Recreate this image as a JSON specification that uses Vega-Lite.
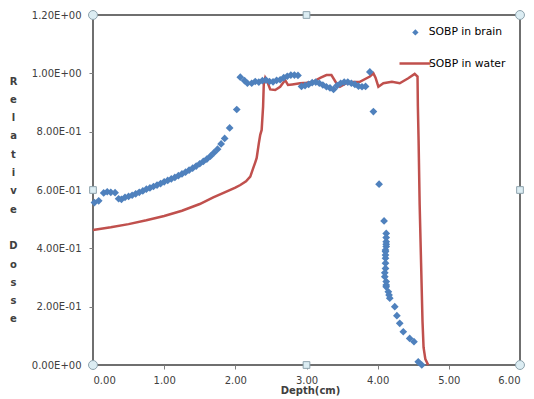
{
  "$schema": "https://vega.github.io/schema/vega-lite/v6.json",
  "width": 427,
  "height": 350,
  "autosize": {"type": "none"},
  "padding": {"left": 93, "top": 15, "right": 14, "bottom": 34},
  "background": "white",
  "config": {
    "view": {"stroke": "#404040", "strokeWidth": 1.5},
    "font": "DejaVu Sans",
    "axis": {"labelFont": "DejaVu Sans", "labelFontSize": 10, "labelColor": "#404040", "titleFont": "DejaVu Sans", "domain": false, "grid": false, "tickColor": "#7f7f7f", "tickSize": 4}
  },
  "datasets": {
    "brain": [
      {"d": 0.02, "v": 0.557}, {"d": 0.08, "v": 0.563}, {"d": 0.15, "v": 0.590}, {"d": 0.20, "v": 0.594},
      {"d": 0.25, "v": 0.592}, {"d": 0.31, "v": 0.591}, {"d": 0.36, "v": 0.570}, {"d": 0.40, "v": 0.568},
      {"d": 0.45, "v": 0.575}, {"d": 0.50, "v": 0.578}, {"d": 0.55, "v": 0.582}, {"d": 0.60, "v": 0.587},
      {"d": 0.65, "v": 0.592}, {"d": 0.70, "v": 0.597}, {"d": 0.75, "v": 0.603}, {"d": 0.80, "v": 0.607},
      {"d": 0.85, "v": 0.612}, {"d": 0.90, "v": 0.617}, {"d": 0.95, "v": 0.622}, {"d": 1.00, "v": 0.628},
      {"d": 1.05, "v": 0.633}, {"d": 1.10, "v": 0.638}, {"d": 1.15, "v": 0.643}, {"d": 1.20, "v": 0.649},
      {"d": 1.25, "v": 0.655}, {"d": 1.30, "v": 0.661}, {"d": 1.35, "v": 0.668}, {"d": 1.40, "v": 0.675},
      {"d": 1.45, "v": 0.682}, {"d": 1.50, "v": 0.690}, {"d": 1.55, "v": 0.698}, {"d": 1.60, "v": 0.706},
      {"d": 1.65, "v": 0.716}, {"d": 1.70, "v": 0.728}, {"d": 1.75, "v": 0.740}, {"d": 1.80, "v": 0.758},
      {"d": 1.85, "v": 0.777}, {"d": 1.92, "v": 0.813}, {"d": 2.02, "v": 0.876}, {"d": 2.07, "v": 0.987},
      {"d": 2.13, "v": 0.975}, {"d": 2.17, "v": 0.966}, {"d": 2.23, "v": 0.966}, {"d": 2.28, "v": 0.972},
      {"d": 2.33, "v": 0.970}, {"d": 2.38, "v": 0.975}, {"d": 2.43, "v": 0.977}, {"d": 2.48, "v": 0.972},
      {"d": 2.53, "v": 0.971}, {"d": 2.58, "v": 0.976}, {"d": 2.63, "v": 0.978}, {"d": 2.68, "v": 0.985},
      {"d": 2.73, "v": 0.990}, {"d": 2.78, "v": 0.994}, {"d": 2.83, "v": 0.994}, {"d": 2.88, "v": 0.993},
      {"d": 2.93, "v": 0.955}, {"d": 2.98, "v": 0.958}, {"d": 3.03, "v": 0.962}, {"d": 3.08, "v": 0.968},
      {"d": 3.13, "v": 0.970}, {"d": 3.18, "v": 0.966}, {"d": 3.23, "v": 0.960}, {"d": 3.28, "v": 0.954},
      {"d": 3.33, "v": 0.950}, {"d": 3.38, "v": 0.945}, {"d": 3.43, "v": 0.958}, {"d": 3.48, "v": 0.966},
      {"d": 3.53, "v": 0.970}, {"d": 3.58, "v": 0.970}, {"d": 3.63, "v": 0.966}, {"d": 3.68, "v": 0.962},
      {"d": 3.73, "v": 0.956}, {"d": 3.78, "v": 0.954}, {"d": 3.83, "v": 0.955}, {"d": 3.89, "v": 1.005},
      {"d": 3.94, "v": 0.869}, {"d": 4.02, "v": 0.620}, {"d": 4.09, "v": 0.494}, {"d": 4.12, "v": 0.451},
      {"d": 4.12, "v": 0.437}, {"d": 4.12, "v": 0.423}, {"d": 4.12, "v": 0.414}, {"d": 4.12, "v": 0.406},
      {"d": 4.11, "v": 0.394}, {"d": 4.11, "v": 0.389}, {"d": 4.11, "v": 0.377}, {"d": 4.11, "v": 0.366},
      {"d": 4.11, "v": 0.349}, {"d": 4.11, "v": 0.331}, {"d": 4.10, "v": 0.316}, {"d": 4.10, "v": 0.303},
      {"d": 4.12, "v": 0.286}, {"d": 4.12, "v": 0.274}, {"d": 4.12, "v": 0.268}, {"d": 4.15, "v": 0.251},
      {"d": 4.16, "v": 0.240}, {"d": 4.17, "v": 0.229}, {"d": 4.24, "v": 0.200}, {"d": 4.27, "v": 0.169},
      {"d": 4.31, "v": 0.143}, {"d": 4.36, "v": 0.114}, {"d": 4.45, "v": 0.091}, {"d": 4.51, "v": 0.080},
      {"d": 4.57, "v": 0.011}, {"d": 4.62, "v": 0.000}
    ],
    "water": [
      {"d": 0.00, "v": 0.463}, {"d": 0.25, "v": 0.472}, {"d": 0.50, "v": 0.483}, {"d": 0.75, "v": 0.496},
      {"d": 1.00, "v": 0.511}, {"d": 1.25, "v": 0.529}, {"d": 1.50, "v": 0.552}, {"d": 1.69, "v": 0.575},
      {"d": 1.85, "v": 0.592}, {"d": 2.00, "v": 0.608}, {"d": 2.07, "v": 0.617}, {"d": 2.15, "v": 0.630},
      {"d": 2.21, "v": 0.646}, {"d": 2.25, "v": 0.674}, {"d": 2.28, "v": 0.695}, {"d": 2.30, "v": 0.710},
      {"d": 2.33, "v": 0.760}, {"d": 2.35, "v": 0.789}, {"d": 2.37, "v": 0.806}, {"d": 2.39, "v": 0.886},
      {"d": 2.40, "v": 0.966}, {"d": 2.42, "v": 0.985}, {"d": 2.45, "v": 0.971}, {"d": 2.49, "v": 0.945},
      {"d": 2.56, "v": 0.943}, {"d": 2.63, "v": 0.954}, {"d": 2.70, "v": 0.977}, {"d": 2.74, "v": 0.960},
      {"d": 2.80, "v": 0.962}, {"d": 2.91, "v": 0.966}, {"d": 3.00, "v": 0.968}, {"d": 3.09, "v": 0.971},
      {"d": 3.20, "v": 0.985}, {"d": 3.28, "v": 0.994}, {"d": 3.35, "v": 0.994}, {"d": 3.42, "v": 0.966},
      {"d": 3.47, "v": 0.954}, {"d": 3.56, "v": 0.966}, {"d": 3.65, "v": 0.970}, {"d": 3.75, "v": 0.971},
      {"d": 3.89, "v": 0.989}, {"d": 3.94, "v": 1.000}, {"d": 3.97, "v": 0.985}, {"d": 4.01, "v": 0.954},
      {"d": 4.08, "v": 0.966}, {"d": 4.20, "v": 0.971}, {"d": 4.31, "v": 0.966}, {"d": 4.43, "v": 0.983},
      {"d": 4.52, "v": 0.998}, {"d": 4.56, "v": 0.989}, {"d": 4.565, "v": 0.886}, {"d": 4.575, "v": 0.771},
      {"d": 4.59, "v": 0.550}, {"d": 4.61, "v": 0.350}, {"d": 4.63, "v": 0.150}, {"d": 4.645, "v": 0.060},
      {"d": 4.67, "v": 0.020}, {"d": 4.71, "v": 0.000}
    ],
    "corners": [
      {"d": 0, "v": 0}, {"d": 0, "v": 1.2}, {"d": 6, "v": 0}, {"d": 6, "v": 1.2}
    ],
    "mids": [
      {"d": 3, "v": 0}, {"d": 3, "v": 1.2}, {"d": 0, "v": 0.6}, {"d": 6, "v": 0.6}
    ]
  },
  "encoding": {
    "x": {
      "field": "d", "type": "quantitative",
      "scale": {"domain": [0, 6], "nice": false, "zero": false},
      "axis": {
        "values": [0, 1, 2, 3, 4, 5, 6], "format": ".2f",
        "title": "Depth(cm)", "titleFontSize": 10, "titleFontWeight": "bold", "titleColor": "#404040",
        "titleX": 217, "titleY": 20, "titleBaseline": "top", "labelPadding": 6
      }
    },
    "y": {
      "field": "v", "type": "quantitative",
      "scale": {"domain": [0, 1.2], "nice": false},
      "axis": {
        "values": [0, 0.2, 0.4, 0.6, 0.8, 1.0, 1.2],
        "labelExpr": "datum.value == 0 ? '0.00E+00' : (datum.value >= 1 ? format(datum.value, '.2f') + 'E+00' : format(datum.value * 10, '.2f') + 'E-01')",
        "labelPadding": 8,
        "title": ["R", "e", "l", "a", "t", "i", "v", "e", "\u200b", "D", "o", "s", "s", "e"],
        "titleAngle": 0, "titleAlign": "center", "titleBaseline": "alphabetic",
        "titleX": -80, "titleY": 69, "titleLineHeight": 18.3,
        "titleFontSize": 10, "titleFontWeight": "bold", "titleColor": "#404040"
      }
    }
  },
  "layer": [
    {
      "data": {"name": "water"},
      "mark": {"type": "line", "strokeWidth": 2.5, "interpolate": "linear"},
      "encoding": {
        "color": {
          "datum": "SOBP in water",
          "scale": {"domain": ["SOBP in water"], "range": ["#C0504D"]},
          "legend": {
            "title": null, "orient": "none", "legendX": 305, "legendY": 31.5,
            "symbolType": "stroke", "symbolSize": 961, "symbolStrokeWidth": 2.5,
            "labelFont": "DejaVu Sans", "labelFontSize": 10.75, "labelColor": "#000000",
            "labelOffset": -3, "padding": 0
          }
        }
      }
    },
    {
      "data": {"name": "brain"},
      "mark": {"type": "point", "filled": true, "opacity": 1, "size": 60, "color": "#4F81BD"},
      "encoding": {
        "shape": {
          "datum": "SOBP in brain",
          "scale": {"domain": ["SOBP in brain"], "range": ["diamond"]},
          "legend": {
            "title": null, "orient": "none", "legendX": 317, "legendY": 12,
            "symbolSize": 40, "symbolFillColor": "#4F81BD", "symbolStrokeWidth": 0,
            "labelFont": "DejaVu Sans", "labelFontSize": 10.75, "labelColor": "#000000",
            "labelOffset": 8, "padding": 0
          }
        }
      }
    },
    {
      "data": {"name": "corners"},
      "mark": {"type": "point", "shape": "circle", "filled": true, "size": 80, "fill": "#dcedf3", "stroke": "#8ea3ad", "strokeWidth": 1, "opacity": 1}
    },
    {
      "data": {"name": "mids"},
      "mark": {"type": "point", "shape": "square", "filled": true, "size": 45, "fill": "#dcedf3", "stroke": "#8ea3ad", "strokeWidth": 1, "opacity": 1}
    }
  ]
}
